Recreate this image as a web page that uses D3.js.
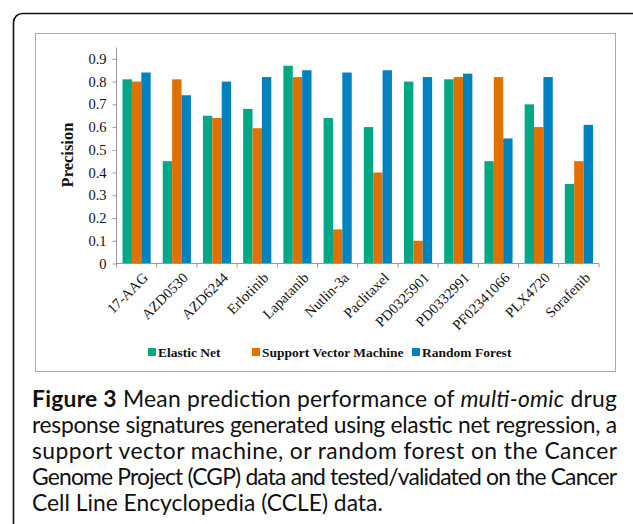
<!DOCTYPE html>
<html lang="en">
<head>
<meta charset="UTF-8">
<title>Figure 3</title>
<style>
  body{margin:0;background:#fff;}
  svg{display:block;}
</style>
<script src="https://cdn.jsdelivr.net/npm/d3@7"></script>
</head>
<body>
<div id="draw"></div>
<script>
var drugs = ["17-AAG","AZD0530","AZD6244","Erlotinib","Lapatanib","Nutlin-3a","Paclitaxel","PD0325901","PD0332991","PF02341066","PLX4720","Sorafenib"];
var elasticNet = [0.81,0.45,0.65,0.68,0.87,0.64,0.60,0.80,0.81,0.45,0.70,0.35];
var svm        = [0.80,0.81,0.64,0.595,0.82,0.15,0.40,0.10,0.82,0.82,0.60,0.45];
var randForest = [0.84,0.74,0.80,0.82,0.85,0.84,0.85,0.82,0.835,0.55,0.82,0.61];
var seriesNames = ["Elastic Net","Support Vector Machine","Random Forest"];
var colors = ["#00a886","#e07000","#0082c0"];
var yTicks = [0,0.1,0.2,0.3,0.4,0.5,0.6,0.7,0.8,0.9];

var w = 633, h = 524;
var plotL = 116.5, plotR = 599, plotB = 263.5, plotT = 47.5;
var serif = "'Liberation Serif','Times New Roman',serif";

var svg = d3.select("#draw").append("svg").attr("width", w).attr("height", h);

// outer frame and chart box
svg.append("rect").attr("x",13.5).attr("y",13.5).attr("width",632).attr("height",540).attr("rx",9)
  .attr("fill","none").attr("stroke","#111").attr("stroke-width",1.6);
svg.append("rect").attr("x",35.5).attr("y",33.5).attr("width",580).attr("height",338)
  .attr("fill","#fff").attr("stroke","#aaa").attr("stroke-width",1);

var x = d3.scaleBand().domain(drugs).range([plotL,plotR]).paddingInner(0.3).paddingOuter(0.15);
var xs = d3.scaleBand().domain(seriesNames).range([0,x.bandwidth()]);
var y = d3.scaleLinear().domain([0,0.95]).range([plotB,plotT]);

var table = drugs.map(function(d,i){ return {drug:d, vals:[elasticNet[i],svm[i],randForest[i]]}; });

var groups = svg.selectAll("g.grp").data(table).enter().append("g").attr("class","grp")
  .attr("transform", function(d){ return "translate("+x(d.drug)+",0)"; });
groups.selectAll("rect").data(function(d){ return d.vals.map(function(v,k){ return {v:v,k:k}; }); })
  .enter().append("rect")
  .attr("x", function(d){ return xs(seriesNames[d.k]); })
  .attr("width", xs.bandwidth())
  .attr("y", function(d){ return y(d.v); })
  .attr("height", function(d){ return plotB - y(d.v); })
  .attr("fill", function(d){ return colors[d.k]; });

// y axis
var yAxis = svg.append("g").attr("transform","translate("+plotL+",0)")
  .call(d3.axisLeft(y).tickValues(yTicks).tickSize(4).tickPadding(6).tickFormat(function(d){ return d===0 ? "0" : d3.format(".1f")(d); }));
yAxis.select(".domain").attr("d","M0,"+plotT+"V"+plotB).attr("stroke","#999");
yAxis.selectAll(".tick line").attr("stroke","#999");
yAxis.selectAll("text").attr("font-family",serif).attr("font-size",14.5).attr("fill","#111");

// x axis with ticks at category boundaries
var step = (plotR-plotL)/drugs.length;
var xAxis = svg.append("g").attr("transform","translate(0,"+plotB+")");
xAxis.append("path").attr("d","M"+plotL+",0H"+plotR).attr("stroke","#999").attr("fill","none");
xAxis.selectAll("line").data(d3.range(drugs.length+1)).enter().append("line")
  .attr("x1", function(i){ return plotL+i*step; }).attr("x2", function(i){ return plotL+i*step; })
  .attr("y1",0).attr("y2",4).attr("stroke","#999");
xAxis.selectAll("text").data(drugs).enter().append("text")
  .attr("transform", function(d){ return "translate("+(x(d)+x.bandwidth()/2+5)+",8) rotate(-45)"; })
  .attr("text-anchor","end").attr("dy","0.7em")
  .attr("font-family",serif).attr("font-size",14.5).attr("fill","#111")
  .text(function(d){ return d; });

svg.append("text").attr("transform","translate(73,155) rotate(-90)")
  .attr("text-anchor","middle").attr("font-family",serif).attr("font-weight","bold").attr("font-size",16.5)
  .attr("fill","#111").text("Precision");

// legend
var legX = [148, 252, 412];
var leg = svg.selectAll("g.leg").data(seriesNames).enter().append("g").attr("class","leg")
  .attr("transform", function(d,i){ return "translate("+legX[i]+",357)"; });
leg.append("rect").attr("x",0).attr("y",-9).attr("width",8).attr("height",8)
  .attr("fill", function(d,i){ return colors[i]; });
leg.append("text").attr("x",10).attr("y",0).attr("font-family",serif).attr("font-weight","bold")
  .attr("font-size",13.5).attr("fill","#111").text(function(d){ return d; });

// caption
var capFont = "Lato,'Open Sans',sans-serif";
var cap = svg.append("g").attr("font-family",capFont).attr("font-size",20).attr("fill","#111");
var lastLine = cap.append("text").attr("x",32).attr("y",511).text("Cell Line Encyclopedia (CCLE) data.");
var fs = 20 * 351 / lastLine.node().getComputedTextLength();
cap.attr("font-size", fs);
var t1 = cap.append("text").attr("x",32).attr("y",407).attr("textLength",585).attr("lengthAdjust","spacing");
t1.append("tspan").attr("font-weight","bold").text("Figure 3");
t1.append("tspan").text(" Mean prediction performance of ");
t1.append("tspan").attr("font-style","italic").text("multi-omic");
t1.append("tspan").text(" drug");
var capLines = [
  "response signatures generated using elastic net regression, a",
  "support vector machine, or random forest on the Cancer",
  "Genome Project (CGP) data and tested/validated on the Cancer"
];
cap.selectAll("text.ln").data(capLines).enter().append("text").attr("class","ln")
  .attr("x",32).attr("y", function(d,i){ return 433+i*26; })
  .attr("textLength",585).attr("lengthAdjust","spacing")
  .text(function(d){ return d; });
</script>
</body>
</html>
